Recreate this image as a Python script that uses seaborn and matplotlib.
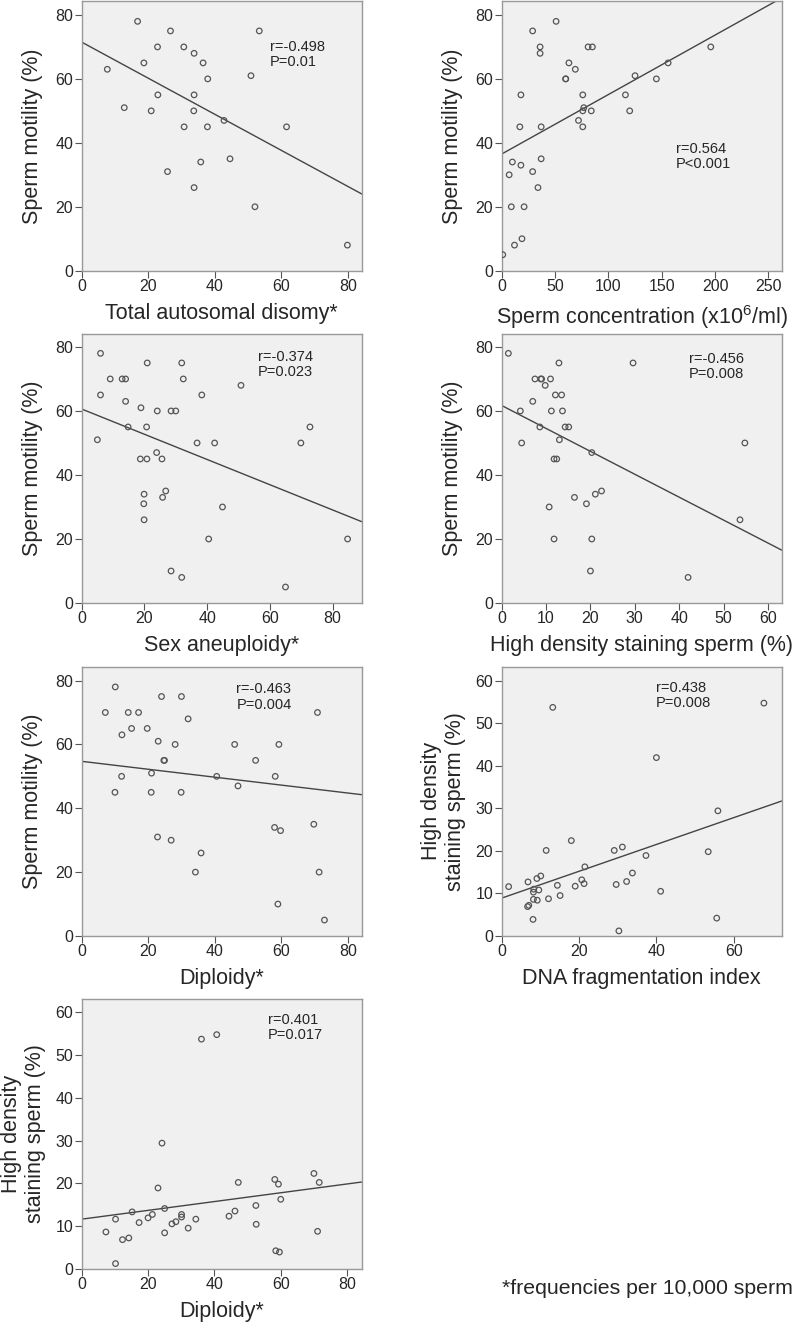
import numpy as np
import pandas as pd
import matplotlib
matplotlib.use("Agg")
import matplotlib.pyplot as plt
import seaborn as sns

# panel 1: total autosomal disomy vs motility
auto_x = [16.8, 26.7, 53.4, 22.8, 30.7, 33.8, 18.7, 36.5, 7.7, 50.9, 37.9, 22.9, 33.8,
          12.8, 20.9, 33.7, 42.8, 30.8, 37.8, 61.6, 44.6, 35.8, 25.8, 33.8, 52.1, 79.9]
auto_mot = [78, 75, 75, 70, 70, 68, 65, 65, 63, 61, 60, 55, 55,
            51, 50, 50, 47, 45, 45, 45, 35, 34, 31, 26, 20, 8]

# panel 2: sperm concentration vs motility
conc_x = [1, 12, 19, 9, 21, 34, 7, 29, 18, 10, 37, 17, 37, 76, 72, 76, 84, 120,
          77, 18, 76, 116, 60, 60, 145, 125, 69, 63, 156, 36, 36, 81, 85, 196, 29, 51]
conc_mot = [5, 8, 10, 20, 20, 26, 30, 31, 33, 34, 35, 45, 45, 45, 47, 50, 50, 50,
            51, 55, 55, 55, 60, 60, 60, 61, 63, 65, 65, 68, 70, 70, 70, 70, 75, 78]

# panel 3: sex aneuploidy vs motility
sex_x = [6.0, 20.9, 31.9, 9.1, 12.9, 14.0, 32.4, 50.8, 6.0, 38.3, 14.0, 18.9, 24.1,
         28.5, 30.0, 14.8, 20.7, 72.8, 5.0, 36.8, 42.4, 69.9, 23.9, 18.7, 20.8, 25.6,
         26.8, 19.9, 25.8, 19.8, 44.9, 19.9, 40.5, 84.8, 28.5, 31.9, 65.0]
sex_mot = [78, 75, 75, 70, 70, 70, 70, 68, 65, 65, 63, 61, 60,
           60, 60, 55, 55, 55, 51, 50, 50, 50, 47, 45, 45, 45,
           35, 34, 33, 31, 30, 26, 20, 20, 10, 8, 5]

# panel 4: high density staining sperm vs motility
hds_x = [1.5, 12.9, 29.6, 7.5, 8.8, 9.0, 11.0, 9.8, 12.1, 13.5, 7.0, 4.2, 11.2,
         13.7, 8.6, 14.3, 15.1, 13.0, 4.5, 54.8, 20.3, 11.8, 12.4, 22.5, 21.1, 16.4,
         19.1, 10.7, 53.7, 11.8, 20.3, 20.0, 42.0]
hds_mot = [78, 75, 75, 70, 70, 70, 70, 68, 65, 65, 63, 60, 60,
           60, 55, 55, 55, 51, 50, 50, 47, 45, 45, 35, 34, 33,
           31, 30, 26, 20, 20, 10, 8]

# panel 5: diploidy vs motility
dip_x = [10.1, 24, 30, 7.1, 14, 17.1, 70.9, 32, 15, 19.7, 12.1, 23, 28.1, 46, 59.3,
         24.7, 24.9, 52.3, 12, 40.6, 58.2, 21, 47, 10, 20.9, 29.9, 69.8, 58, 59.8,
         22.8, 26.9, 35.9, 34.2, 71.4, 59, 73]
dip_mot = [78, 75, 75, 70, 70, 70, 70, 68, 65, 65, 63, 61, 60, 60, 60,
           55, 55, 55, 50, 50, 50, 51, 47, 45, 45, 45, 35, 34, 33,
           31, 30, 26, 20, 20, 10, 5]

# panel 6: DNA fragmentation index vs high density staining sperm
dfi_x = [1.8, 6.8, 6.7, 7.0, 8.1, 8.2, 8.2, 8.3, 9.2, 9.1, 9.6, 10.1, 11.5, 12.1,
         13.2, 14.4, 15.1, 18.0, 19.0, 20.7, 21.3, 21.5, 29.1, 29.6, 30.3, 31.2,
         32.3, 33.8, 37.3, 40.0, 41.1, 53.4, 55.6, 55.9, 67.8]
dfi_hds = [11.6, 12.7, 6.9, 7.2, 3.9, 10.3, 8.6, 11.0, 8.4, 13.5, 10.8, 14.1, 20.1, 8.75,
           53.7, 11.9, 9.5, 22.4, 11.7, 13.2, 12.3, 16.25, 20.1, 12.1, 1.2, 20.9,
           12.8, 14.8, 18.9, 41.9, 10.5, 19.8, 4.2, 29.4, 54.7]

# panel 7: diploidy vs high density staining sperm
dip2_x = [7.3, 10.2, 10.2, 12.3, 14.2, 15.2, 17.3, 20.0, 21.3, 23.0, 24.2, 25.0, 25.0,
          27.2, 28.4, 30.1, 30.1, 32.1, 34.4, 36.1, 40.7, 44.4, 46.2, 47.2, 52.5, 52.6,
          58.2, 58.5, 59.3, 59.6, 60.0, 70.0, 71.1, 71.6]
dip2_hds = [8.6, 1.2, 11.6, 6.8, 7.2, 13.3, 10.8, 11.9, 12.7, 18.9, 29.4, 14.1, 8.4,
            10.5, 11.0, 12.7, 12.1, 9.5, 11.6, 53.75, 54.8, 12.3, 13.5, 20.2, 14.8, 10.4,
            20.9, 4.2, 19.8, 3.9, 16.25, 22.3, 8.75, 20.2]

# fitted lines (intercept, slope) as drawn in the figure
fit_intercepts = [71.5, 36.5, 60.6, 61.7, 54.7, 8.9, 11.6]
fit_slopes = [-0.564, 0.186, -0.394, -0.716, -0.124, 0.315, 0.103]

stats_r = ["r=-0.498", "r=0.564", "r=-0.374", "r=-0.456", "r=-0.463", "r=0.438", "r=0.401"]
stats_p = ["P=0.01", "P<0.001", "P=0.023", "P=0.008", "P=0.004", "P=0.008", "P=0.017"]

x_labels = ["Total autosomal disomy*", "Sperm concentration (x10$^{6}$/ml)",
            "Sex aneuploidy*", "High density staining sperm (%)", "Diploidy*",
            "DNA fragmentation index", "Diploidy*"]
y_labels = ["Sperm motility (%)"] * 5 + ["High density\nstaining sperm (%)"] * 2

sns.set_style("white")
plt.rcParams["font.family"] = ["Liberation Sans", "DejaVu Sans"]
plt.rcParams["mathtext.fontset"] = "custom"
plt.rcParams["mathtext.rm"] = "Liberation Sans"
plt.rcParams["mathtext.default"] = "regular"

fig = plt.figure(figsize=(7.93, 13.23), dpi=100)

W, H = 793, 1323
lefts = [81.7, 501.7]
bottoms = [270.7, 603.0, 936.0, 1268.7]
aw, ah = 280, 269.5

datasets = [(auto_x, auto_mot), (conc_x, conc_mot), (sex_x, sex_mot), (hds_x, hds_mot),
            (dip_x, dip_mot), (dfi_x, dfi_hds), (dip2_x, dip2_hds)]
xlims = [84.2, 262.5, 89.3, 63.1, 84.2, 72.4, 84.4]
xticks = [range(0, 81, 20), range(0, 251, 50), range(0, 81, 20), range(0, 61, 10),
          range(0, 81, 20), range(0, 61, 20), range(0, 81, 20)]
ylims = [84.3, 84.3, 84.2, 84.2, 84.4, 63.3, 63.1]
yticks = [range(0, 81, 20)] * 5 + [range(0, 61, 10)] * 2
# annotation anchors (data coords, left edge / top of first line)
ann_pos = [(56.6, 72.2), (163.4, 40.3), (56.1, 79.2), (42.2, 78.4),
           (46.5, 79.4), (39.8, 59.9), (56.2, 59.8)]

for i, (xs, ys) in enumerate(datasets):
    row, col = divmod(i, 2)
    ax = fig.add_axes([lefts[col] / W, 1 - bottoms[row] / H, aw / W, ah / H])
    ax.set_facecolor("#f0f0f0")
    df = pd.DataFrame({"x": xs, "y": ys})
    sns.scatterplot(data=df, x="x", y="y", ax=ax, s=16, facecolor="none",
                    edgecolor="#555555", linewidth=0.9, zorder=3)
    ax.set_xlim(0, xlims[i])
    ax.set_ylim(0, ylims[i])
    ax.axline((0, fit_intercepts[i]), slope=fit_slopes[i], color="#444444", lw=1.0, zorder=2)
    ax.set_xticks(list(xticks[i]))
    ax.set_yticks(list(yticks[i]))
    ax.tick_params(axis="both", which="both", direction="out", length=5, width=0.8,
                   color="#555555", labelsize=11.5, pad=1, bottom=True, left=True)
    for sp in ax.spines.values():
        sp.set_color("#999999")
        sp.set_linewidth(1.0)
    ax.set_xlabel(x_labels[i], fontsize=15.5, labelpad=6.5)
    two_line = "\n" in y_labels[i]
    ax.set_ylabel(y_labels[i], fontsize=15.5, labelpad=7 if two_line else 9,
                  linespacing=1.2)
    tx, ty = ann_pos[i]
    ax.text(tx, ty, stats_r[i] + "\n" + stats_p[i], fontsize=10.5, ha="left",
            va="top", linespacing=1.1)

fig.text(501.7 / W, 1 - 1288 / H, "*frequencies per 10,000 sperm", fontsize=15.3,
         ha="left", va="center")

fig.savefig("out.png", dpi=100)
